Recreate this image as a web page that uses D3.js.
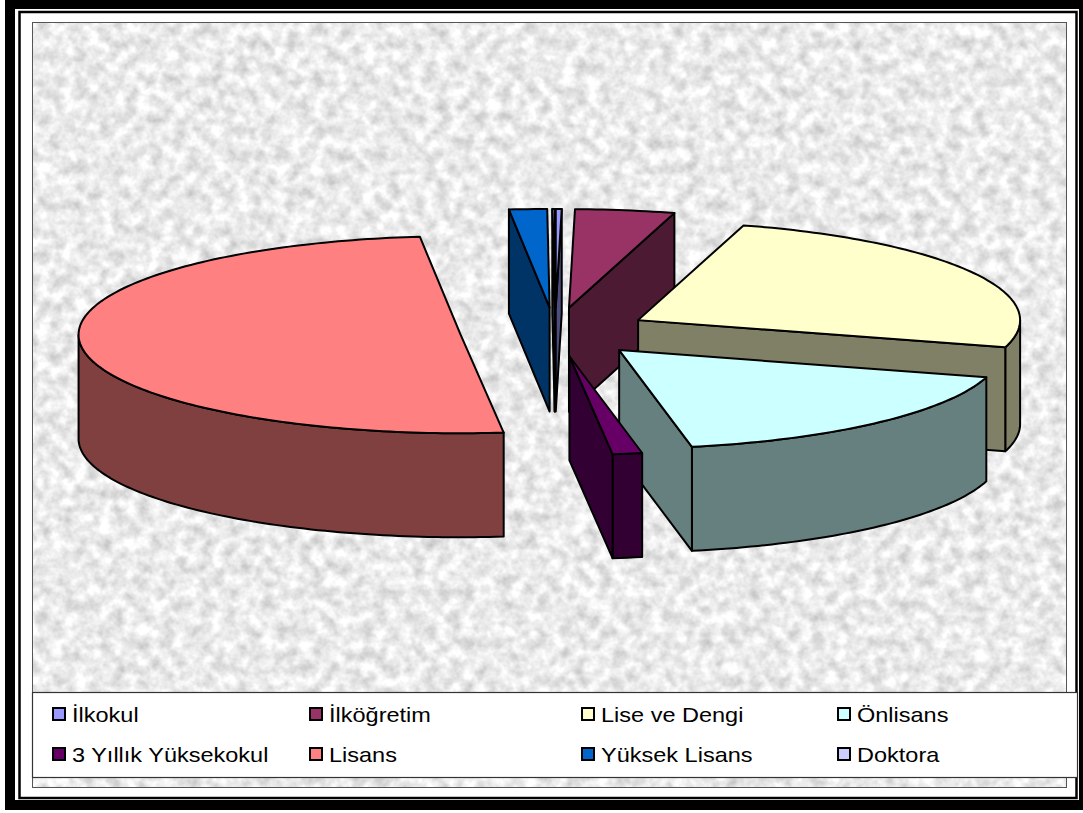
<!DOCTYPE html>
<html>
<head>
<meta charset="utf-8">
<script src="https://cdn.jsdelivr.net/npm/d3@7"></script>
<style>
body { margin: 0; background: #fff; }
text { font-family: "Liberation Sans", Arial, sans-serif; }
</style>
</head>
<body>
<script>
// data (percent of total)
var categories = ["İlkokul", "İlköğretim", "Lise ve Dengi", "Önlisans", "3 Yıllık Yüksekokul", "Lisans", "Yüksek Lisans", "Doktora"];
var values = [0.25, 4.2, 25.0, 17.5, 1.25, 50.1, 1.6, 0.1];
var colors = ["#9999FF", "#993366", "#FFFFCC", "#CCFFFF", "#660066", "#FF8080", "#0066CC", "#CCCCFF"];

var w = 1083, h = 813;

var svg = d3.select("body")
	.append("svg")
	.attr("width", w)
	.attr("height", h);

//marble background texture
var defs = svg.append("defs");
var marble = defs.append("filter")
	.attr("id", "marble")
	.attr("x", 0).attr("y", 0).attr("width", 1).attr("height", 1)
	.attr("color-interpolation-filters", "sRGB");
marble.append("feTurbulence")
	.attr("type", "fractalNoise")
	.attr("baseFrequency", "0.08")
	.attr("numOctaves", 3)
	.attr("seed", 7);
marble.append("feColorMatrix")
	.attr("type", "matrix")
	.attr("values", "0.36 0 0 0 0.74  0.36 0 0 0 0.74  0.36 0 0 0 0.74  0 0 0 0 1");

//outer frame
svg.append("rect")
	.attr("x", 10).attr("y", 4).attr("width", 1074).attr("height", 801)
	.attr("fill", "none").attr("stroke", "#000").attr("stroke-width", 10);
svg.append("rect")
	.attr("x", 19.5).attr("y", 12).attr("width", 1057).attr("height", 786)
	.attr("fill", "none").attr("stroke", "#000").attr("stroke-width", 2.5);

//plot area
svg.append("rect")
	.attr("x", 32).attr("y", 22).attr("width", 1034).attr("height", 765)
	.attr("fill", "#eee")
	.attr("filter", "url(#marble)");
svg.append("rect")
	.attr("x", 32.5).attr("y", 22.5).attr("width", 1034).attr("height", 765)
	.attr("fill", "none").attr("stroke", "#555").attr("stroke-width", 1);

//3D PIE
var cx = 555, cy = 332;   //centre of the top face
var R = 382;              //horizontal radius
var tilt = 0.258;         //vertical squash of the ellipse
var depth = 104;          //thickness
var explode = 95;

var pie = d3.pie().sort(null).value(function(d){ return d.value; });
var arcs = pie(categories.map(function(c, i){
	return {name: c, value: values[i], color: colors[i]};
}));

function pt(o, a, r, z){
	return [cx + o[0] + r * Math.sin(a), cy + o[1] - r * tilt * Math.cos(a) + z];
}
function arcPts(o, a0, a1, z){
	var n = Math.max(2, Math.ceil(Math.abs(a1 - a0) / 0.02));
	return d3.range(n + 1).map(function(i){ return pt(o, a0 + (a1 - a0) * i / n, R, z); });
}
var line = d3.line();
function poly(p){ return line(p) + "Z"; }
function dark(c){
	var k = d3.rgb(c);
	return d3.rgb(k.r * 0.5, k.g * 0.5, k.b * 0.5).formatHex();
}

arcs.forEach(function(d){
	var m = (d.startAngle + d.endAngle) / 2;
	d.off = [explode * Math.sin(m), -explode * tilt * Math.cos(m)];
	d.key = pt(d.off, m, R * 0.6, 0)[1];
});

//draw back slices first
var order = arcs.slice().sort(function(a, b){ return a.key - b.key; });

var pieG = svg.append("g").attr("class", "pie");

order.forEach(function(d){
	var g = pieG.append("g").attr("class", "slice");
	var o = d.off, a0 = d.startAngle, a1 = d.endAngle;
	var side = dark(d.data.color);
	var faces = [];

	//outer wall, front half only
	var wa = Math.max(a0, Math.PI / 2), wb = Math.min(a1, 3 * Math.PI / 2);
	if (wa < wb) faces.push(arcPts(o, wa, wb, 0).concat(arcPts(o, wb, wa, depth)));

	//radial cut faces that look toward the viewer
	if (Math.sin(a0) < 0) faces.push([pt(o, 0, 0, 0), pt(o, a0, R, 0), pt(o, a0, R, depth), pt(o, 0, 0, depth)]);
	if (Math.sin(a1) > 0) faces.push([pt(o, 0, 0, 0), pt(o, a1, R, 0), pt(o, a1, R, depth), pt(o, 0, 0, depth)]);

	faces.forEach(function(f){
		g.append("path")
			.attr("d", poly(f))
			.attr("fill", side)
			.attr("stroke", "#000")
			.attr("stroke-width", 2)
			.attr("stroke-linejoin", "round");
	});

	//top face
	g.append("path")
		.attr("d", poly([pt(o, 0, 0, 0)].concat(arcPts(o, a0, a1, 0))))
		.attr("fill", d.data.color)
		.attr("stroke", "#000")
		.attr("stroke-width", 2)
		.attr("stroke-linejoin", "round");
});

//LEGEND
svg.append("rect")
	.attr("x", 32.5).attr("y", 692.5).attr("width", 1045).attr("height", 85)
	.attr("fill", "#fff").attr("stroke", "#333").attr("stroke-width", 1.2);

var colX = [53, 310, 582, 838];
var rowY = [708, 748];

var items = svg.selectAll(".legendItem")
	.data(arcs)
	.enter()
	.append("g")
	.attr("class", "legendItem")
	.attr("transform", function(d, i){
		return "translate(" + colX[i % 4] + "," + rowY[Math.floor(i / 4)] + ")";
	});
items.append("rect")
	.attr("x", 0).attr("y", 0).attr("width", 12).attr("height", 12)
	.attr("fill", function(d){ return d.data.color; })
	.attr("stroke", "#000").attr("stroke-width", 2);
items.append("text")
	.attr("transform", "translate(19,14) scale(1.12,1)")
	.attr("font-size", 21)
	.attr("fill", "#000")
	.text(function(d){ return d.data.name; });
</script>
</body>
</html>
